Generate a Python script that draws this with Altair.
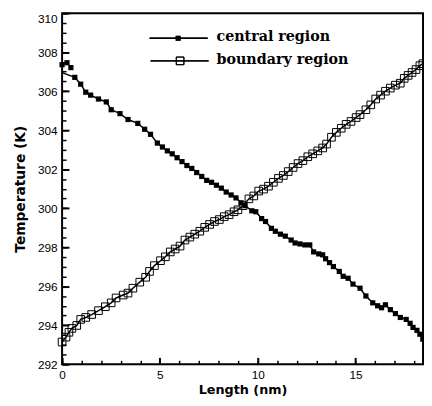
import altair as alt
import pandas as pd

# ---- data ----
central_x = [0.00, 0.25, 0.45, 0.65, 0.95, 1.21, 1.46, 1.86, 2.26, 2.51, 2.96, 3.37, 3.87, 4.22,
             4.52, 4.87, 5.13, 5.38, 5.63, 5.88, 6.13, 6.38, 6.63, 6.88, 7.14, 7.39, 7.64, 7.89,
             8.14, 8.39, 8.64, 8.89, 9.15, 9.35, 9.70, 9.90, 10.20, 10.40, 10.70, 10.90, 11.16,
             11.41, 11.71, 11.91, 12.16, 12.41, 12.66, 12.86, 13.12, 13.32, 13.47, 13.67, 13.87,
             14.17, 14.37, 14.62, 14.87, 15.23, 15.53, 15.88, 16.13, 16.33, 16.53, 16.78, 17.04,
             17.29, 17.59, 17.79, 17.94, 18.14, 18.29, 18.44]
central_y = [307.36, 307.46, 307.21, 306.71, 306.36, 305.95, 305.80, 305.60, 305.45, 305.05, 304.85,
             304.55, 304.35, 304.05, 303.79, 303.34, 303.14, 302.94, 302.79, 302.59, 302.39, 302.19,
             302.04, 301.83, 301.63, 301.43, 301.33, 301.18, 301.03, 300.83, 300.68, 300.53, 300.28,
             300.13, 299.87, 299.82, 299.47, 299.32, 298.97, 298.82, 298.67, 298.57, 298.37, 298.22,
             298.17, 298.12, 298.12, 297.76, 297.66, 297.61, 297.41, 297.21, 297.01, 296.76, 296.51,
             296.41, 296.11, 295.90, 295.50, 295.15, 295.00, 294.90, 295.05, 294.80, 294.60, 294.40,
             294.30, 294.10, 293.89, 293.74, 293.54, 293.29]

central_line_x = [0.0] + central_x[3:]
central_line_y = [306.95] + central_y[3:]

boundary_x = [0.00, 0.20, 0.35, 0.50, 0.75, 0.95, 1.21, 1.51, 1.86, 2.21, 2.51, 2.76, 3.12, 3.37,
              3.62, 3.97, 4.27, 4.47, 4.72, 5.03, 5.28, 5.53, 5.78, 6.03, 6.28, 6.53, 6.78, 7.04,
              7.29, 7.54, 7.79, 8.04, 8.29, 8.54, 8.79, 8.99, 9.25, 9.55, 9.80, 10.05, 10.30, 10.55,
              10.80, 11.06, 11.31, 11.56, 11.81, 12.06, 12.31, 12.56, 12.81, 13.07, 13.32, 13.52,
              13.77, 14.02, 14.27, 14.52, 14.77, 15.03, 15.23, 15.53, 15.78, 16.03, 16.28, 16.53,
              16.78, 17.04, 17.29, 17.49, 17.69, 17.89, 18.09, 18.29, 18.44]
boundary_y = [293.14, 293.39, 293.64, 293.84, 293.99, 294.30, 294.40, 294.55, 294.75, 294.95, 295.15,
              295.40, 295.55, 295.65, 295.90, 296.21, 296.46, 296.76, 297.06, 297.31, 297.51, 297.76,
              297.91, 298.06, 298.37, 298.52, 298.67, 298.82, 299.02, 299.17, 299.32, 299.42, 299.57,
              299.67, 299.82, 299.92, 300.13, 300.48, 300.63, 300.88, 300.98, 301.13, 301.33, 301.53,
              301.68, 301.88, 302.09, 302.29, 302.44, 302.64, 302.79, 302.94, 303.09, 303.29, 303.64,
              303.89, 304.10, 304.30, 304.45, 304.65, 304.80, 305.05, 305.30, 305.60, 305.80, 306.00,
              306.16, 306.31, 306.41, 306.66, 306.81, 306.96, 307.11, 307.31, 307.41]

x_major = [0, 5, 10, 15]
x_minor = list(range(0, 19))
y_major = list(range(292, 311, 2))
y_minor = [292 + 0.5 * i for i in range(37)]

labels = ["central region", "boundary region"]

central = pd.DataFrame({"x": central_x, "y": central_y})
central_line = pd.DataFrame({"x": central_line_x, "y": central_line_y})
boundary = pd.DataFrame({"x": boundary_x, "y": boundary_y})

W, H = 367, 357
FONT = "Liberation Sans"
TFONT = "DejaVu Sans"
xscale = alt.Scale(domain=[0, 18.45], nice=False, zero=False)
yscale = alt.Scale(domain=[292, 310], nice=False, zero=False)

x_major_axis = alt.Axis(values=x_major, tickSize=7, offset=-7, domain=False, grid=False,
                        labelPadding=5, labelFont=FONT, labelFontSize=12, labelColor="black",
                        labelFlush=False, tickColor="black", tickWidth=2, zindex=1,
                        title="Length (nm)", titleFont=TFONT, titleFontSize=13,
                        titleFontWeight="bold", titleColor="black", titlePadding=4)
y_major_axis = alt.Axis(values=y_major, tickSize=7, offset=-7, domain=False, grid=False,
                        labelPadding=5, labelFont=FONT, labelFontSize=12, labelColor="black",
                        labelFlush=False, tickColor="black", tickWidth=2, zindex=1,
                        labelOffset={"condition": {"test": "datum.value == 310", "value": 5},
                                     "value": 0},
                        title="Temperature (K)", titleFont=TFONT, titleFontSize=14,
                        titleFontWeight="bold", titleColor="black", titlePadding=10)
x_minor_axis = alt.Axis(values=x_minor, tickSize=4, offset=-4, domain=False, grid=False,
                        labels=False, title="", tickColor="black", tickWidth=1.5, zindex=1,
                        orient="bottom")
y_minor_axis = alt.Axis(values=y_minor, tickSize=4, offset=-4, domain=False, grid=False,
                        labels=False, title="", tickColor="black", tickWidth=1.5, zindex=1,
                        orient="left")

b_line = alt.Chart(boundary).mark_line(color="black", strokeWidth=1.5).encode(
    x=alt.X("x:Q", scale=xscale, axis=x_major_axis),
    y=alt.Y("y:Q", scale=yscale, axis=y_major_axis),
)
b_pts = alt.Chart(boundary).mark_point(shape="square", filled=False, color="black",
                                       size=60, strokeWidth=1, opacity=1).encode(
    x=alt.X("x:Q", scale=xscale, axis=None),
    y=alt.Y("y:Q", scale=yscale, axis=None),
)
c_line = alt.Chart(central_line).mark_line(color="black", strokeWidth=1.5).encode(
    x=alt.X("x:Q", scale=xscale, axis=x_minor_axis),
    y=alt.Y("y:Q", scale=yscale, axis=y_minor_axis),
)
c_pts = alt.Chart(central).mark_point(shape="square", filled=True, color="black",
                                      size=28, opacity=1).encode(
    x=alt.X("x:Q", scale=xscale, axis=None),
    y=alt.Y("y:Q", scale=yscale, axis=None),
)

# ---- frame ----
frame = alt.Chart(pd.DataFrame({"label": ["frame"]})).mark_rect(
    fill="transparent", stroke="black", strokeWidth=2).encode(
    x=alt.value(0), x2=alt.value(W), y=alt.value(0), y2=alt.value(H))

# ---- legend (inside the plot, top) ----
leg_df = pd.DataFrame({"label": labels})
leg1_rule = alt.Chart(leg_df).mark_rule(color="black", strokeWidth=1.5).encode(
    x=alt.value(89), x2=alt.value(148), y=alt.value(25.5))
leg1_pt = alt.Chart(leg_df).mark_point(shape="square", filled=True, color="black",
                                       size=25, opacity=1).encode(
    x=alt.value(118), y=alt.value(25.5))
leg2_rule = alt.Chart(leg_df).mark_rule(color="black", strokeWidth=1.5).encode(
    x=alt.value(90), x2=alt.value(149), y=alt.value(48.5))
leg2_pt = alt.Chart(leg_df).mark_point(shape="square", filled=False, color="black",
                                       size=60, strokeWidth=1, opacity=1).encode(
    x=alt.value(120), y=alt.value(48.5))
leg1_txt = alt.Chart(pd.DataFrame({"label": [labels[0]]})).mark_text(
    align="left", baseline="middle", font="DejaVu Serif", fontSize=14.5, fontWeight="bold",
    color="black").encode(x=alt.value(157), y=alt.value(24.5), text="label:N")
leg2_txt = alt.Chart(pd.DataFrame({"label": [labels[1]]})).mark_text(
    align="left", baseline="middle", font="DejaVu Serif", fontSize=14.5, fontWeight="bold",
    color="black").encode(x=alt.value(157), y=alt.value(47.5), text="label:N")

chart = alt.layer(
    b_line, b_pts, c_line, c_pts, frame,
    leg1_rule, leg1_pt, leg2_rule, leg2_pt, leg1_txt, leg2_txt,
).resolve_axis(x="independent", y="independent").properties(
    width=W, height=H,
    autosize=alt.AutoSizeParams(type="none"),
    padding={"left": 55, "top": 2, "right": 1, "bottom": 30},
).configure_view(stroke="transparent").configure(background="white")

chart.save("out.html", embed_options={"renderer": "svg", "actions": False})
